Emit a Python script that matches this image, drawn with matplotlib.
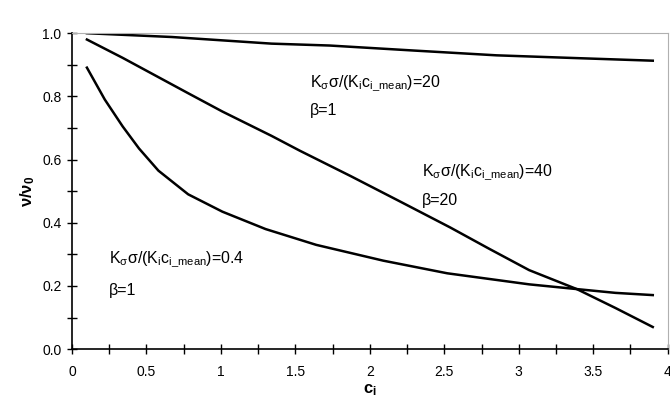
import matplotlib
matplotlib.use("Agg")
import matplotlib.pyplot as plt
from matplotlib.ticker import MultipleLocator

plt.rcParams['font.family'] = ['Liberation Sans', 'DejaVu Sans']
plt.rcParams['mathtext.fontset'] = 'custom'
plt.rcParams['mathtext.rm'] = 'Liberation Sans'
plt.rcParams['mathtext.it'] = 'Liberation Sans'
plt.rcParams['mathtext.default'] = 'regular'

# curve K_sigma*sigma/(K_i c_mean)=20, beta=1
c_20 = [0.1, 0.67, 1.34, 1.73, 2.3, 2.85, 3.4, 3.9]
v_20 = [1.0, 0.988, 0.967, 0.961, 0.945, 0.93, 0.921, 0.913]

# curve =40, beta=20
c_40 = [0.1, 0.34, 0.56, 0.78, 1.01, 1.34, 1.53, 1.87, 2.2, 2.54, 2.8, 3.07, 3.39, 3.65, 3.9]
v_40 = [0.98, 0.922, 0.866, 0.81, 0.752, 0.675, 0.628, 0.548, 0.468, 0.385, 0.318, 0.25, 0.19, 0.13, 0.07]

# curve =0.4, beta=1
c_04 = [0.1, 0.22, 0.34, 0.45, 0.58, 0.78, 1.01, 1.3, 1.64, 2.09, 2.52, 3.07, 3.39, 3.65, 3.9]
v_04 = [0.891, 0.79, 0.705, 0.635, 0.565, 0.49, 0.435, 0.38, 0.33, 0.28, 0.24, 0.205, 0.19, 0.178, 0.171]

fig = plt.figure(figsize=(6.7, 4.05), dpi=100)
ax = fig.add_axes([0.1075, 0.138, 0.889, 0.78])

for cx, vy in [(c_20, v_20), (c_40, v_40), (c_04, v_04)]:
    ax.plot(cx, vy, color='black', linewidth=1.8)

ax.set_xlim(0, 4)
ax.set_ylim(0, 1)
ax.xaxis.set_major_locator(MultipleLocator(0.5))
ax.xaxis.set_minor_locator(MultipleLocator(0.25))
ax.yaxis.set_major_locator(MultipleLocator(0.2))
ax.yaxis.set_minor_locator(MultipleLocator(0.1))
ax.xaxis.set_major_formatter(plt.FuncFormatter(lambda v, p: '%g' % v))
ax.yaxis.set_major_formatter(plt.FuncFormatter(lambda v, p: '%.1f' % v))
ax.tick_params(which='both', direction='inout', length=7, width=1, labelsize=10, color='black')
ax.tick_params(axis='x', pad=8)
ax.tick_params(axis='y', pad=4)

for s in ['top', 'right']:
    ax.spines[s].set_color('#b0b0b0')
for s in ['left', 'bottom']:
    ax.spines[s].set_linewidth(1.2)

ax.set_xlabel('c$_i$', fontsize=12, fontweight='bold', labelpad=2)
ax.set_ylabel('ν/ν$_0$', fontsize=12, fontweight='bold', labelpad=4)

lab = 'K$_σ$σ/(K$_i$c$_{i\\_mean}$)='
ax.text(1.6, 0.83, lab + '20', fontsize=11.5)
ax.text(1.6, 0.74, 'β=1', fontsize=11.5)
ax.text(2.35, 0.55, lab + '40', fontsize=11.5)
ax.text(2.35, 0.455, 'β=20', fontsize=11.5)
ax.text(0.25, 0.275, lab + '0.4', fontsize=11.5)
ax.text(0.25, 0.17, 'β=1', fontsize=11.5)

fig.savefig('out.png', dpi=100)
